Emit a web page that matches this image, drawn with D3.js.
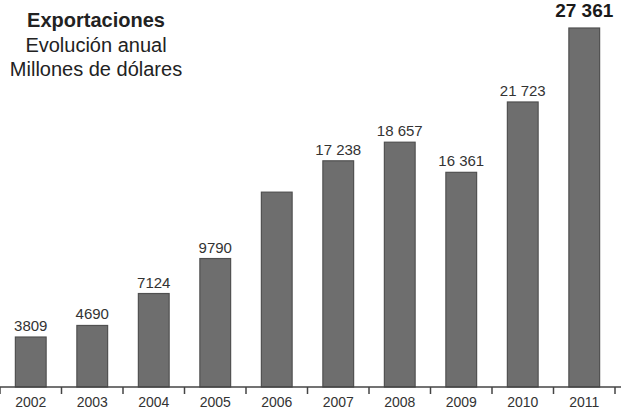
<!DOCTYPE html>
<html>
<head>
<meta charset="utf-8">
<script src="https://cdn.jsdelivr.net/npm/d3@7"></script>
<style>
  html, body { margin: 0; padding: 0; background: #fff; }
  svg { display: block; font-family: "Liberation Sans", Arial, sans-serif; }
</style>
</head>
<body>
<svg id="chart" width="621" height="410"></svg>
<script>
// Exportaciones anuales, millones de dólares
const years = ["2002", "2003", "2004", "2005", "2006", "2007", "2008", "2009", "2010", "2011"];
const values = [3809, 4690, 7124, 9790, 14850, 17238, 18657, 16361, 21723, 27361];
const valueLabels = ["3809", "4690", "7124", "9790", "", "17 238", "18 657", "16 361", "21 723", "27 361"];
const titleLines = ["Exportaciones", "Evolución anual", "Millones de dólares"];

const svg = d3.select("#chart");
const baseline = 387;

const x = d3.scaleBand()
  .domain(years)
  .range([0, 615])
  .paddingInner(0.5)
  .paddingOuter(0.25);

const y = d3.scaleLinear()
  .domain([0, d3.max(values)])
  .range([baseline, 28]);

const data = years.map((yr, i) => ({ year: yr, value: values[i], label: valueLabels[i] }));
const last = years[years.length - 1];

// bars
svg.append("g")
  .selectAll("rect")
  .data(data)
  .join("rect")
  .attr("x", d => x(d.year))
  .attr("y", d => y(d.value))
  .attr("width", x.bandwidth())
  .attr("height", d => baseline - y(d.value))
  .attr("fill", "#6e6e6e")
  .attr("stroke", "#505050")
  .attr("stroke-width", 1.2);

// value labels
svg.append("g")
  .selectAll("text")
  .data(data.filter(d => d.label))
  .join("text")
  .attr("x", d => x(d.year) + x.bandwidth() / 2)
  .attr("y", d => y(d.value) - (d.year === last ? 11 : 6))
  .attr("text-anchor", "middle")
  .attr("fill", d => d.year === last ? "#1a1a1a" : "#333")
  .attr("font-size", d => d.year === last ? 19 : 15)
  .attr("font-weight", d => d.year === last ? "bold" : "normal")
  .text(d => d.label);

// x axis: line, ticks at band boundaries, year labels
const axisG = svg.append("g").attr("transform", `translate(0,${baseline})`);
axisG.append("line")
  .attr("x1", 0).attr("x2", 621)
  .attr("stroke", "#444").attr("stroke-width", 1.5);

const step = x.step();
const boundaries = d3.range(years.length + 1).map(i => x.range()[0] + i * step);
axisG.selectAll("line.tick")
  .data(boundaries)
  .join("line")
  .attr("class", "tick")
  .attr("x1", d => d).attr("x2", d => d)
  .attr("y1", 0).attr("y2", 7)
  .attr("stroke", "#444").attr("stroke-width", 1.5);

axisG.selectAll("text")
  .data(years)
  .join("text")
  .attr("x", d => x(d) + x.bandwidth() / 2)
  .attr("y", 20)
  .attr("text-anchor", "middle")
  .attr("font-size", 14)
  .attr("fill", "#333")
  .text(d => d);

// title block
svg.append("g")
  .selectAll("text")
  .data(titleLines)
  .join("text")
  .attr("x", 96)
  .attr("y", (d, i) => [27, 52, 76][i])
  .attr("text-anchor", "middle")
  .attr("font-size", 20)
  .attr("font-weight", (d, i) => i === 0 ? "bold" : "normal")
  .attr("fill", "#222")
  .text(d => d);
</script>
</body>
</html>
